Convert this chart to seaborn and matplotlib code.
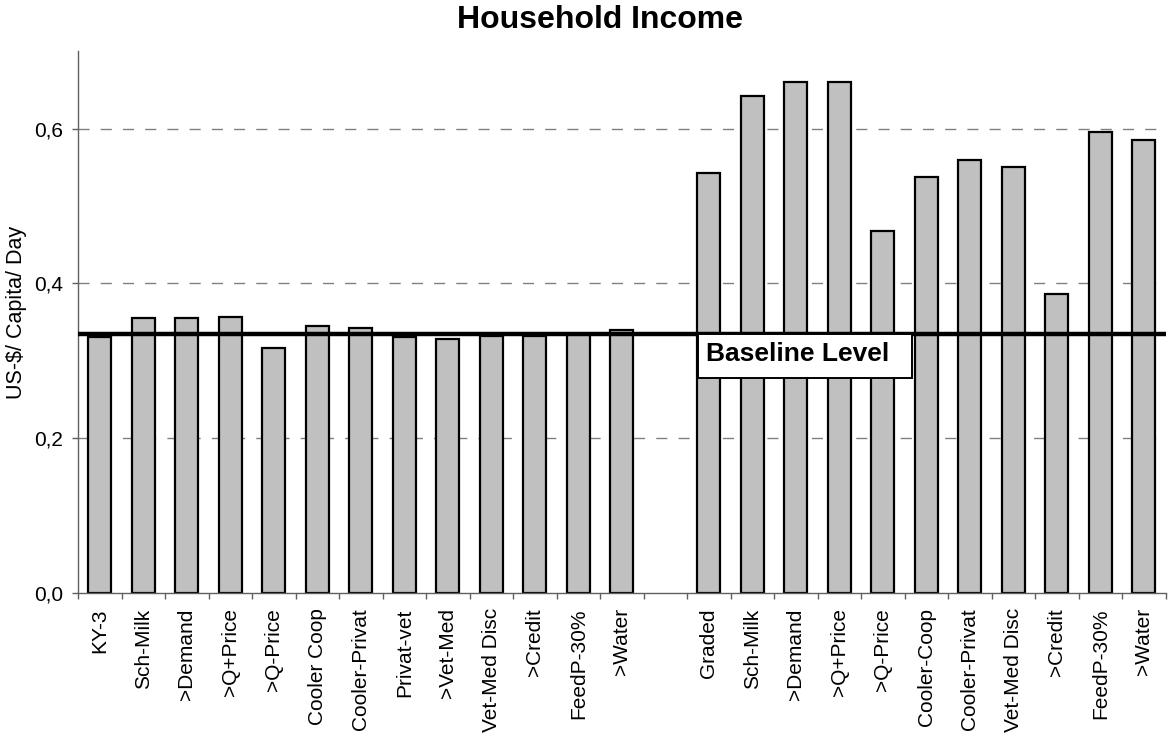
import numpy as np
import pandas as pd
import matplotlib
matplotlib.use("Agg")
import matplotlib.pyplot as plt
import matplotlib.ticker as mticker
from matplotlib.patches import Rectangle
import seaborn as sns

# left group (KY-3 scenarios) and right group (Graded scenarios)
left_labels = ["KY-3", "Sch-Milk", ">Demand", ">Q+Price", ">Q-Price", "Cooler Coop",
               "Cooler-Privat", "Privat-vet", ">Vet-Med", "Vet-Med Disc", ">Credit",
               "FeedP-30%", ">Water"]
left_values = [0.331, 0.355, 0.355, 0.356, 0.316, 0.345, 0.342, 0.331, 0.328,
               0.332, 0.332, 0.334, 0.340]
right_labels = ["Graded", "Sch-Milk", ">Demand", ">Q+Price", ">Q-Price", "Cooler-Coop",
                "Cooler-Privat", "Vet-Med Disc", ">Credit", "FeedP-30%", ">Water"]
right_values = [0.543, 0.642, 0.660, 0.660, 0.468, 0.538, 0.559, 0.551, 0.386,
                0.595, 0.585]
baseline = 0.335
y_ticks = [0.0, 0.2, 0.4, 0.6]


def build_frame():
    labels = left_labels + [""] + right_labels
    values = left_values + [np.nan] + right_values
    keys = [f"c{i}" for i in range(len(labels))]
    return pd.DataFrame({"key": keys, "label": labels, "value": values})


def main():
    df = build_frame()
    sns.set_theme(style="white")
    plt.rcParams["font.family"] = ["Liberation Sans", "DejaVu Sans"]
    plt.rcParams.update({"text.color": "black", "axes.labelcolor": "black",
                         "xtick.color": "black", "ytick.color": "black"})

    fig, ax = plt.subplots(figsize=(11.68, 7.42), dpi=100)
    fig.subplots_adjust(left=0.0668, right=0.998, top=0.931, bottom=0.2008)

    sns.barplot(data=df, x="key", y="value", order=list(df["key"]),
                color="#c0c0c0", edgecolor="black", linewidth=1.6,
                width=0.53, saturation=1, ax=ax, zorder=2)

    n = len(df)
    ax.set_xlim(-0.5, n - 0.5)
    ax.set_ylim(0, 0.7)

    # grid
    for y in y_ticks[1:]:
        ax.axhline(y, color="#808080", linestyle=(0, (8, 8)), linewidth=1.0, zorder=1)

    # baseline
    ax.axhline(baseline, color="black", linewidth=3.2, zorder=4)
    x0 = 13.75
    ax.add_patch(Rectangle((x0, 0.278), 4.92, baseline - 0.278, facecolor="white",
                           edgecolor="black", linewidth=1.4, zorder=5))
    ax.text(13.94, 0.300, "Baseline Level", fontsize=19, fontweight="bold",
            va="baseline", ha="left", zorder=6)

    # ticks
    ax.set_xticks(range(n))
    ax.set_xticklabels(df["label"], rotation=90, fontsize=15)
    ax.tick_params(axis="x", which="major", length=0, pad=11)
    ax.xaxis.set_minor_locator(mticker.FixedLocator(np.arange(-0.5, n, 1.0)))
    ax.tick_params(axis="x", which="minor", length=4.5, width=1, color="#606060",
                   direction="out", bottom=True)
    ax.set_yticks(y_ticks)
    ax.yaxis.set_major_formatter(mticker.FuncFormatter(lambda v, p: f"{v:.1f}".replace(".", ",")))
    ax.tick_params(axis="y", length=4.5, width=1, color="#606060", direction="out",
                   left=True, labelsize=15, pad=6)

    for side in ["top", "right"]:
        ax.spines[side].set_visible(False)
    for side in ["left", "bottom"]:
        ax.spines[side].set_color("#606060")
        ax.spines[side].set_linewidth(1.0)

    ax.set_xlabel("")
    ax.set_ylabel("")
    fig.text(17 / 1168, 1 - 312 / 742, "US-$/ Capita/ Day", fontsize=15.5,
             rotation=90, ha="center", va="center")
    fig.text(600 / 1168, 1 - 28 / 742, "Household Income", fontsize=23,
             fontweight="bold", ha="center", va="baseline")

    fig.savefig("out.png", dpi=100, facecolor="white")


if __name__ == "__main__":
    main()
